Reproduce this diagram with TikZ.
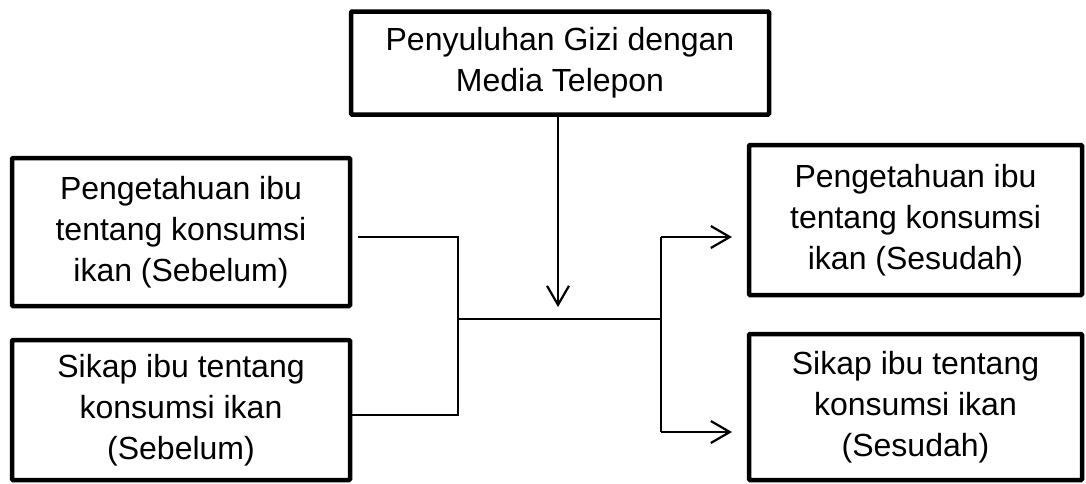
\documentclass[tikz,border=0pt]{standalone}
\usepackage{fontspec}
\setmainfont{Liberation Sans}
\usetikzlibrary{arrows.meta}
\begin{document}
\begin{tikzpicture}[x=1pt,y=-1pt,
  box/.style={draw=black,line width=4.5pt,rounded corners=1pt,align=center,
    inner sep=0pt,font=\fontsize{32}{41}\selectfont},
  conn/.style={draw=black,line width=2pt},
  arr/.style={draw=black,line width=2.2pt,-{Straight Barb[length=19pt,width=22pt,line width=2.2pt]}}]
\useasboundingbox (0,0) rectangle (1086,483);
\node[box,minimum width=418pt,minimum height=103pt] (top) at (560,63) {Penyuluhan Gizi dengan\\Media Telepon};
\node[box,minimum width=338pt,minimum height=148pt] (LT) at (181,232) {Pengetahuan ibu\\tentang konsumsi\\ikan (Sebelum)};
\node[box,minimum width=338pt,minimum height=140pt] (LB) at (181,410) {Sikap ibu tentang\\konsumsi ikan\\(Sebelum)};
\node[box,minimum width=333pt,minimum height=150pt] (RT) at (915.5,220) {Pengetahuan ibu\\tentang konsumsi\\ikan (Sesudah)};
\node[box,minimum width=333pt,minimum height=146pt] (RB) at (915.5,407) {Sikap ibu tentang\\konsumsi ikan\\(Sesudah)};
\coordinate (j1) at (458,237);
\coordinate (j2) at (458,415);
\coordinate (m) at (458,319);
\coordinate (s) at (661,319);
\coordinate (s1) at (661,237);
\coordinate (s2) at (661,432);
\coordinate (dtop) at (558,113);
\coordinate (dend) at (558,307);
\coordinate (a1) at (732,237);
\coordinate (a2) at (732,432);
\draw[conn] ([xshift=6pt]LT.east |- j1) -- (j1) -- (j2) -- (LB.east |- j2);
\draw[conn] (m) -- (s);
\draw[conn] (s1) -- (s2);
\draw[arr] (dtop) -- (dend);
\draw[arr] (s1) -- (a1);
\draw[arr] (s2) -- (a2);
\end{tikzpicture}
\end{document}
